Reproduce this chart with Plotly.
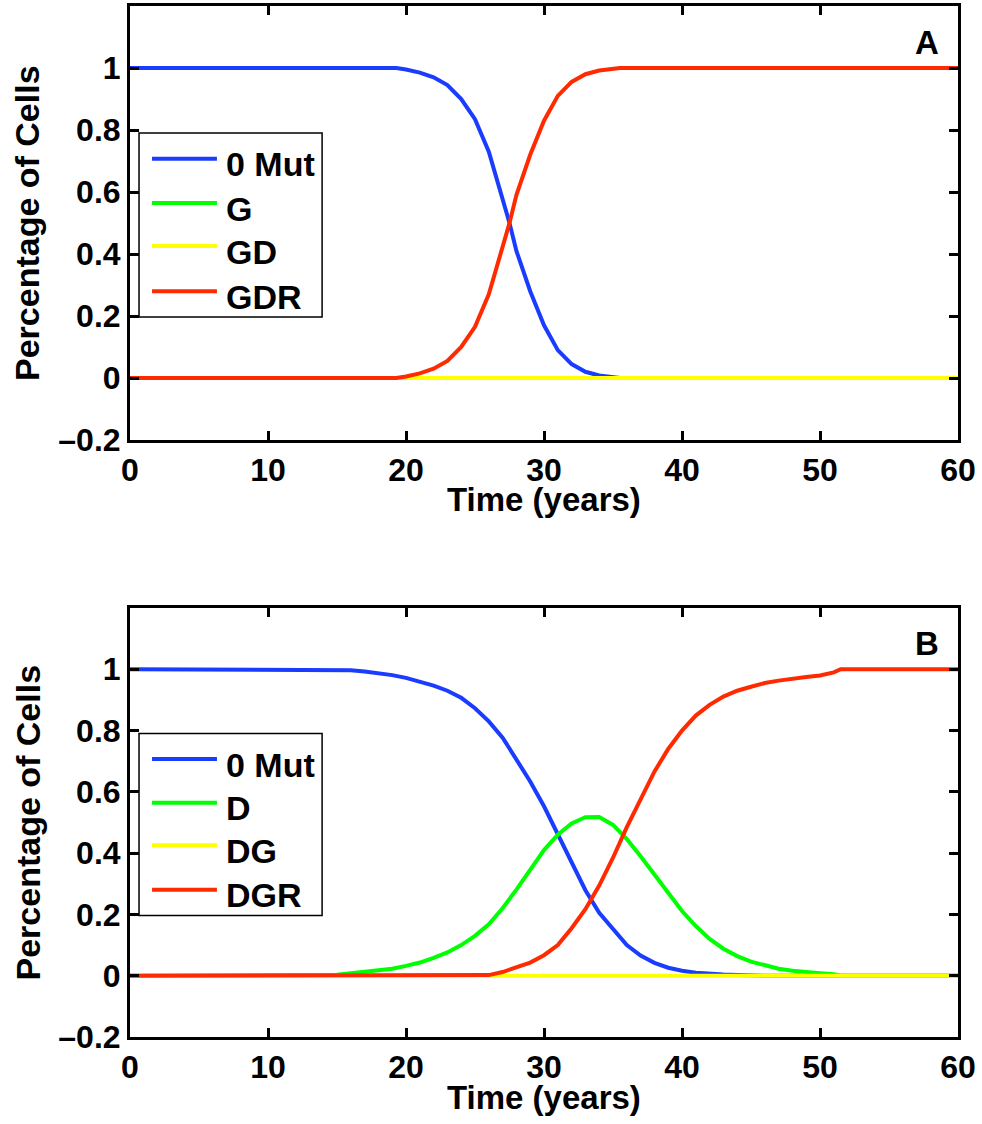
import plotly.graph_objects as go

# ---------------- data ----------------
# Panel A
time_A = [0, 19.3, 20, 21, 22, 23, 24, 25, 26, 27, 27.5, 28, 29, 30, 31, 32, 33, 34, 35, 35.5, 60]
mut0_A = [1, 1, 0.995, 0.985, 0.97, 0.945, 0.90, 0.835, 0.73, 0.58, 0.50, 0.41, 0.28, 0.17, 0.09, 0.045, 0.02, 0.008, 0.003, 0, 0]
G_A    = [0, 0, 0, 0, 0, 0, 0, 0, 0, 0, 0, 0, 0, 0, 0, 0, 0, 0, 0, 0, 0]
GD_A   = [0, 0, 0, 0, 0, 0, 0, 0, 0, 0, 0, 0, 0, 0, 0, 0, 0, 0, 0, 0, 0]
GDR_A  = [0, 0, 0.005, 0.015, 0.03, 0.055, 0.10, 0.165, 0.27, 0.42, 0.50, 0.59, 0.72, 0.83, 0.91, 0.955, 0.98, 0.992, 0.997, 1, 1]
names_A = ["0 Mut", "G", "GD", "GDR"]

# Panel B
time_B = [0, 15, 16, 17, 18, 19, 20, 21, 22, 23, 24, 25, 26, 27, 28, 29, 30, 31, 32, 33, 34,
          35, 36, 37, 38, 39, 40, 41, 42, 43, 44, 45, 46, 47, 48, 49, 50, 51, 51.5, 60]
mut0_B = [1, 1, 0.997, 0.993, 0.988, 0.981, 0.972, 0.961, 0.947, 0.930, 0.907, 0.873, 0.830, 0.777,
          0.706, 0.634, 0.553, 0.461, 0.37, 0.279, 0.205, 0.15, 0.10, 0.066, 0.042, 0.026, 0.016,
          0.01, 0.006, 0.004, 0.002, 0, 0, 0, 0, 0, 0, 0, 0, 0]
D_B    = [0, 0.003, 0.008, 0.012, 0.017, 0.023, 0.032, 0.043, 0.058, 0.076, 0.10, 0.13, 0.168, 0.22,
          0.281, 0.346, 0.41, 0.46, 0.497, 0.517, 0.518, 0.492, 0.446, 0.39, 0.33, 0.268, 0.211,
          0.162, 0.12, 0.088, 0.064, 0.046, 0.033, 0.023, 0.016, 0.011, 0.008, 0.005, 0, 0]
DG_B   = [0] * 40
DGR_B  = [0, 0, 0, 0, 0, 0, 0, 0, 0, 0, 0, 0, 0.002, 0.012, 0.027, 0.043, 0.067, 0.10, 0.155,
          0.217, 0.294, 0.385, 0.485, 0.575, 0.666, 0.74, 0.80, 0.849, 0.884, 0.911, 0.93, 0.943,
          0.955, 0.963, 0.97, 0.975, 0.98, 0.99, 1, 1]
names_B = ["0 Mut", "D", "DG", "DGR"]

colors = ["#1a3cff", "#00ff00", "#ffff00", "#ff2a00"]

x_ticks = [0, 10, 20, 30, 40, 50, 60]
y_ticks = [-0.2, 0, 0.2, 0.4, 0.6, 0.8, 1]
y_tick_text = ["\u20130.2", "0", "0.2", "0.4", "0.6", "0.8", "1"]

FONT = "Liberation Sans"

fig = go.Figure()

for ys, nm, c in zip([mut0_A, G_A, GD_A, GDR_A], names_A, colors):
    fig.add_trace(go.Scatter(x=time_A, y=ys, name=nm, mode="lines",
                             line=dict(color=c, width=4), showlegend=False,
                             xaxis="x", yaxis="y"))
for ys, nm, c in zip([mut0_B, D_B, DG_B, DGR_B], names_B, colors):
    fig.add_trace(go.Scatter(x=time_B, y=ys, name=nm, mode="lines",
                             line=dict(color=c, width=4), showlegend=False,
                             xaxis="x2", yaxis="y2"))

tickfont = dict(family=FONT, size=32, color="black", weight="bold")
ax_common = dict(showline=True, linecolor="black", linewidth=3, mirror="ticks",
                 ticks="inside", ticklen=9, tickwidth=2.5, tickcolor="black",
                 showgrid=False, zeroline=False, tickfont=tickfont, automargin=False)

W, H = 982, 1124
xdom = [130 / W, 958 / W]
ydomA = [1 - 440 / H, 1 - 6 / H]
ydomB = [1 - 1037 / H, 1 - 608 / H]

fig.update_layout(
    template="none",
    width=W, height=H, margin=dict(l=0, r=0, t=0, b=0, pad=0), autosize=False,
    paper_bgcolor="white", plot_bgcolor="white",
    xaxis=dict(domain=xdom, range=[0, 60], tickvals=x_ticks, anchor="y", **ax_common),
    yaxis=dict(domain=ydomA, range=[-0.2, 1.2], tickvals=y_ticks, ticktext=y_tick_text,
               anchor="x", **ax_common),
    xaxis2=dict(domain=xdom, range=[0, 60], tickvals=x_ticks, anchor="y2", **ax_common),
    yaxis2=dict(domain=ydomB, range=[-0.2, 1.2], tickvals=y_ticks, ticktext=y_tick_text,
                anchor="x2", **ax_common),
)

xt_font = dict(family=FONT, size=33, color="black", weight="bold")
yt_font = dict(family=FONT, size=34, color="black", weight="bold")
lg_font = dict(family=FONT, size=34, color="black", weight="bold")
pl_font = dict(family=FONT, size=33, color="black", weight="bold")
ann = []
shapes = []
for xr, yr, ycen, ytitle, label, names in [("x", "y", 1 - 223 / H, 1 - 499 / H, "A", names_A),
                                           ("x2", "y2", 1 - 822.5 / H, 1 - 1097 / H, "B", names_B)]:
    ann.append(dict(text="Time (years)", xref="paper", yref="paper",
                    x=(xdom[0] + xdom[1]) / 2, y=ytitle, showarrow=False,
                    xanchor="center", yanchor="middle", font=xt_font))
    ann.append(dict(text="Percentage of Cells", xref="paper", yref="paper",
                    x=27 / W, y=ycen, textangle=-90, showarrow=False,
                    xanchor="center", yanchor="middle", font=yt_font))
    ann.append(dict(text=label, xref=f"{xr} domain", yref=f"{yr} domain",
                    x=0.9626, y=0.917, showarrow=False, xanchor="center",
                    yanchor="middle", font=pl_font))
    # legend box
    shapes.append(dict(type="rect", xref=f"{xr} domain", yref=f"{yr} domain",
                       x0=0.0109, x1=0.232, y0=0.2834, y1=0.7074,
                       line=dict(color="black", width=1.5), fillcolor="white",
                       layer="above"))
    for nm, c, yy in zip(names, colors, [0.648, 0.546, 0.447, 0.343]):
        shapes.append(dict(type="line", xref=f"{xr} domain", yref=f"{yr} domain",
                           x0=0.0266, x1=0.105, y0=yy, y1=yy,
                           line=dict(color=c, width=4), layer="above"))
        ann.append(dict(text=nm, xref=f"{xr} domain", yref=f"{yr} domain",
                        x=0.114, y=yy - 0.013, showarrow=False, xanchor="left",
                        yanchor="middle", font=lg_font))

fig.update_layout(annotations=ann, shapes=shapes)

fig.write_html("out.html")
